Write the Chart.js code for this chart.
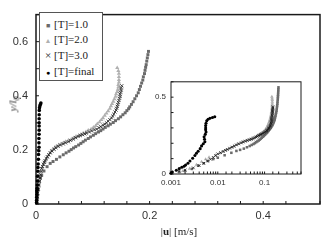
<!DOCTYPE html>
<html>
<head>
<meta charset="utf-8">
<script src="https://cdn.jsdelivr.net/npm/chart.js@4"></script>
<style>
  body { margin: 0; background: #fff; }
  #wrap { position: relative; width: 327px; height: 240px; overflow: hidden; }
  #main { position: absolute; left: 0; top: 0; }
  #inset { position: absolute; left: 140px; top: 72px; }
  .legend { position: absolute; left: 39px; top: 12px; width: 62px; height: 67px; border: 1px solid #555;
            background: #fff; font: 11px "Liberation Serif", serif; color: #222; }
  .legend div { position: absolute; left: 4px; white-space: nowrap; line-height: 12px; }
  .legend span.m { display: inline-block; width: 8px; text-align: center; margin-right: 2px; }
  .ytitle { position: absolute; left: 14px; top: 104px; transform: translate(-50%, -50%) rotate(-90deg);
            font: italic 11px "Liberation Serif", serif; color: #333; white-space: nowrap; }
  .xtitle { position: absolute; left: 179px; top: 231px; transform: translate(-50%, -50%);
            font: 11px "Liberation Serif", serif; color: #222; white-space: nowrap; }
</style>
</head>
<body>
<div id="wrap">
  <canvas id="main" width="327" height="240"></canvas>
  <canvas id="inset" width="170" height="125"></canvas>
  <div class="legend">
    <div style="top:5px"><span class="m" style="color:#6b6b6b;font-size:7px">■</span>[T]=1.0</div>
    <div style="top:20px"><span class="m" style="color:#b0b0b0;font-size:7px">▲</span>[T]=2.0</div>
    <div style="top:36px"><span class="m" style="color:#222">×</span>[T]=3.0</div>
    <div style="top:52px"><span class="m" style="color:#000;font-size:7px">●</span>[T]=final</div>
  </div>
  <div class="ytitle">y/l<sub style="font-size:8px">0</sub></div>
  <div class="xtitle">|<b>u</b>| [m/s]</div>
</div>
<script>
// velocity magnitude |u| [m/s] and height y/l0 for each [T]
const u10 = [0.001,0.0015,0.002,0.0028,0.0038,0.005,0.0062,0.008,0.010,0.014,0.0195,0.025,0.030,0.036,0.042,0.048,0.053,0.058,0.062,0.066,0.070,0.075,0.079,0.083,0.087,0.092,0.096,0.101,0.105,0.110,0.114,0.118,0.122,0.127,0.131,0.136,0.140,0.145,0.149,0.153,0.157,0.160,0.163,0.165,0.168,0.171,0.174,0.177,0.180,0.182,0.184,0.186,0.188,0.189,0.191,0.192,0.193,0.194,0.195,0.196,0.197,0.198];
const y10 = [0.005,0.01,0.02,0.033,0.054,0.07,0.085,0.097,0.106,0.122,0.138,0.15,0.157,0.165,0.174,0.182,0.189,0.195,0.201,0.207,0.212,0.218,0.224,0.230,0.236,0.242,0.248,0.254,0.260,0.266,0.271,0.277,0.283,0.289,0.295,0.301,0.308,0.315,0.322,0.330,0.337,0.345,0.352,0.359,0.368,0.378,0.389,0.400,0.411,0.423,0.435,0.447,0.458,0.470,0.482,0.494,0.505,0.515,0.528,0.540,0.552,0.564];

const u20 = [0.001,0.0018,0.0025,0.0035,0.0045,0.0055,0.0065,0.009,0.011,0.013,0.015,0.017,0.020,0.022,0.025,0.027,0.030,0.033,0.036,0.040,0.044,0.048,0.052,0.057,0.062,0.066,0.070,0.075,0.079,0.083,0.088,0.092,0.097,0.101,0.105,0.108,0.112,0.115,0.118,0.121,0.124,0.127,0.130,0.132,0.134,0.136,0.138,0.140,0.141,0.143,0.144,0.145,0.145,0.146,0.146,0.146,0.146,0.145,0.143];
const y20 = [0.008,0.02,0.035,0.06,0.08,0.096,0.108,0.122,0.135,0.145,0.154,0.163,0.172,0.18,0.189,0.196,0.202,0.208,0.213,0.218,0.222,0.226,0.230,0.235,0.239,0.244,0.248,0.253,0.257,0.262,0.266,0.272,0.277,0.283,0.289,0.296,0.303,0.311,0.318,0.327,0.335,0.344,0.353,0.362,0.370,0.379,0.388,0.397,0.406,0.415,0.423,0.432,0.441,0.450,0.459,0.470,0.482,0.492,0.503];

const u30 = [0.001,0.0015,0.002,0.003,0.004,0.005,0.006,0.007,0.008,0.009,0.010,0.0115,0.013,0.0145,0.016,0.018,0.020,0.0225,0.025,0.028,0.032,0.035,0.039,0.043,0.048,0.052,0.057,0.061,0.066,0.070,0.074,0.078,0.082,0.086,0.089,0.094,0.098,0.103,0.107,0.111,0.114,0.118,0.121,0.124,0.127,0.130,0.133,0.135,0.137,0.139,0.141,0.142,0.143,0.144,0.145,0.146,0.147,0.148,0.148,0.149,0.150,0.150,0.151];
const y30 = [0.012,0.019,0.026,0.04,0.055,0.07,0.084,0.096,0.108,0.12,0.131,0.139,0.147,0.154,0.160,0.168,0.175,0.182,0.189,0.196,0.202,0.208,0.213,0.218,0.222,0.226,0.230,0.235,0.240,0.245,0.250,0.253,0.256,0.259,0.262,0.266,0.270,0.274,0.277,0.282,0.286,0.291,0.295,0.300,0.306,0.312,0.318,0.325,0.332,0.340,0.347,0.354,0.361,0.368,0.376,0.383,0.391,0.398,0.406,0.413,0.421,0.429,0.437];

const uFin = [0.001,0.00107,0.0013,0.0015,0.0017,0.0019,0.00205,0.0023,0.00254,0.0029,0.00324,0.0035,0.0038,0.0042,0.0045,0.0049,0.0053,0.0052,0.0051,0.0054,0.0056,0.0055,0.0055,0.0055,0.0056,0.0058,0.0062,0.0068,0.0077,0.0086];
const yFin = [0.005,0.0125,0.025,0.035,0.044,0.051,0.058,0.07,0.085,0.103,0.121,0.135,0.148,0.165,0.183,0.197,0.21,0.226,0.242,0.258,0.273,0.288,0.300,0.315,0.330,0.346,0.356,0.3625,0.368,0.373];

const xLabels = [0, 0.2, 0.4];
const yLabels = [0, 0.2, 0.4, 0.6];
const insetXLabels = [0.001, 0.01, 0.1];
const insetYLabels = [0, 0.5];

const pts = (xs, ys) => xs.map((x, i) => ({ x: x, y: ys[i] }));
const near = (v, list) => list.some(l => Math.abs(v - l) <= 1e-6 * Math.max(Math.abs(l), 1e-3));

function makeSets(r) {
  return [
    { label: '[T]=final', data: pts(uFin, yFin), pointStyle: 'circle', pointRadius: r * 0.85,
      backgroundColor: '#000', borderColor: '#000', borderWidth: 0, order: 0 },
    { label: '[T]=3.0', data: pts(u30, y30), pointStyle: 'crossRot', pointRadius: r * 1.05,
      borderColor: '#1a1a1a', borderWidth: 0.8, order: 1 },
    { label: '[T]=1.0', data: pts(u10, y10), pointStyle: 'rect', pointRadius: r,
      backgroundColor: '#6b6b6b', borderColor: '#6b6b6b', borderWidth: 0, order: 2 },
    { label: '[T]=2.0', data: pts(u20, y20), pointStyle: 'triangle', pointRadius: r * 1.15,
      backgroundColor: '#b0b0b0', borderColor: '#b0b0b0', borderWidth: 0, order: 3 }
  ];
}

// frame + inward tick marks, drawn from each scale's own ticks
function framePlugin(len, lw) {
  return {
    id: 'frame',
    beforeDatasetsDraw(chart) {
      const { ctx, chartArea: a, scales } = chart;
      ctx.save();
      ctx.strokeStyle = '#1a1a1a';
      ctx.lineWidth = lw;
      ctx.strokeRect(a.left, a.top, a.right - a.left, a.bottom - a.top);
      ctx.lineWidth = 1;
      ctx.beginPath();
      scales.x.ticks.forEach(t => {
        const px = scales.x.getPixelForValue(t.value);
        ctx.moveTo(px, a.bottom); ctx.lineTo(px, a.bottom - len);
      });
      scales.y.ticks.forEach(t => {
        const py = scales.y.getPixelForValue(t.value);
        ctx.moveTo(a.left, py); ctx.lineTo(a.left + len, py);
      });
      ctx.stroke();
      ctx.restore();
    }
  };
}

new Chart(document.getElementById('main'), {
  type: 'scatter',
  data: { datasets: makeSets(2.1) },
  options: {
    responsive: false,
    animation: false,
    layout: { padding: { top: 4, right: 7, left: 0, bottom: 0 } },
    plugins: { legend: { display: false }, tooltip: { enabled: false } },
    datasets: { scatter: { clip: false } },
    scales: {
      x: {
        type: 'linear', min: 0, max: 0.5,
        grid: { display: false, drawTicks: false },
        border: { display: false },
        afterFit: s => { s.height = 36; },
        ticks: {
          stepSize: 0.04, autoSkip: false, maxRotation: 0, padding: 5,
          color: '#333', font: { family: 'Liberation Sans', size: 11 },
          callback: v => near(v, xLabels) ? String(Math.round(v * 10) / 10) : ''
        }
      },
      y: {
        type: 'linear', min: 0, max: 0.7,
        grid: { display: false, drawTicks: false },
        border: { display: false },
        afterFit: s => { s.width = 36; },
        ticks: {
          stepSize: 0.1, autoSkip: false, padding: 8,
          color: '#333', font: { family: 'Liberation Sans', size: 11 },
          callback: v => near(v, yLabels) ? String(Math.round(v * 10) / 10) : ''
        }
      }
    }
  },
  plugins: [framePlugin(3, 1.5)]
});

new Chart(document.getElementById('inset'), {
  type: 'scatter',
  data: { datasets: makeSets(1.8) },
  options: {
    responsive: false,
    animation: false,
    layout: { padding: { top: 5, right: 9, left: 0, bottom: 0 } },
    plugins: { legend: { display: false }, tooltip: { enabled: false } },
    datasets: { scatter: { clip: false } },
    scales: {
      x: {
        type: 'logarithmic', min: 0.001, max: 0.6,
        grid: { display: false, drawTicks: false },
        border: { display: false },
        afterFit: s => { s.height = 23; },
        ticks: {
          autoSkip: false, maxRotation: 0, padding: 4,
          color: '#333', font: { family: 'Liberation Sans', size: 8 },
          callback: v => near(v, insetXLabels) ? String(+v.toPrecision(1)) : ''
        }
      },
      y: {
        type: 'linear', min: 0, max: 0.6,
        grid: { display: false, drawTicks: false },
        border: { display: false },
        afterFit: s => { s.width = 31; },
        ticks: {
          stepSize: 0.1, autoSkip: false, padding: 5,
          color: '#333', font: { family: 'Liberation Sans', size: 8 },
          callback: v => near(v, insetYLabels) ? String(Math.round(v * 10) / 10) : ''
        }
      }
    }
  },
  plugins: [framePlugin(2.5, 1)]
});
</script>
</body>
</html>
